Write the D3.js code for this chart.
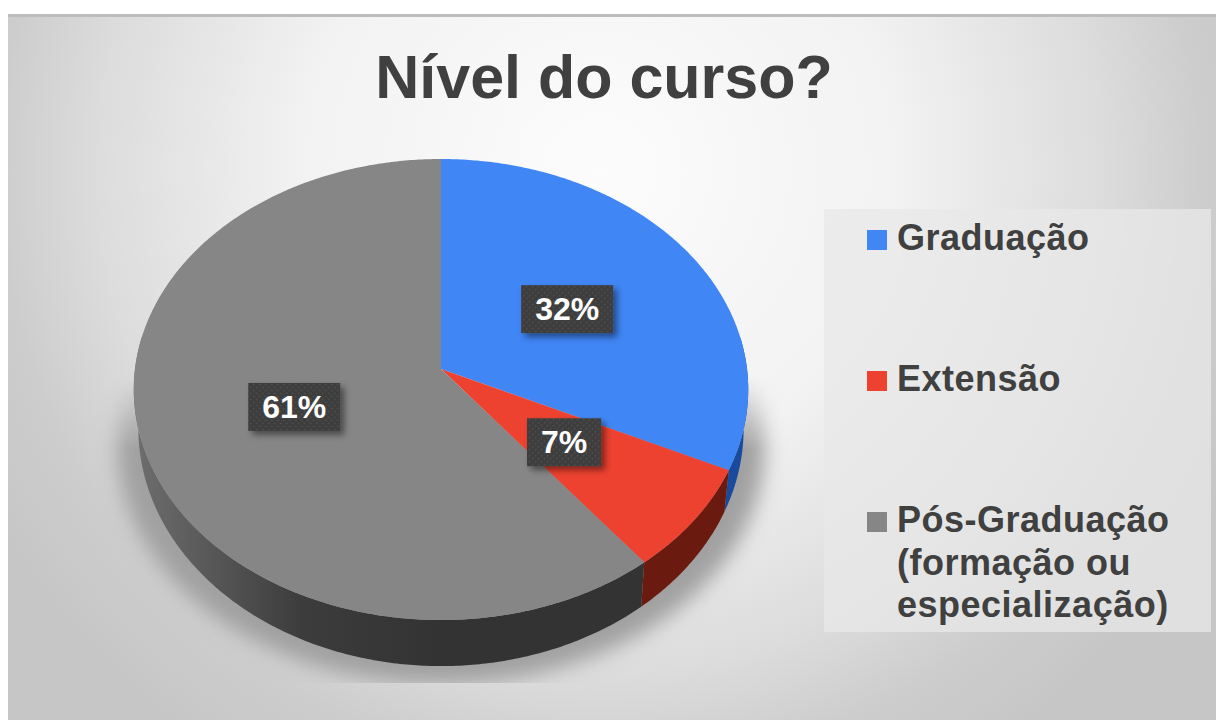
<!DOCTYPE html>
<html lang="pt">

<head>
    <meta charset="UTF-8">
    <title>Nível do curso?</title>
    <script src="https://d3js.org/d3.v7.min.js"></script>
    <style>
        html, body { margin: 0; padding: 0; background: #fff; }
        svg { display: block; }
        text { font-family: "Liberation Sans", Arial, sans-serif; }
    </style>
</head>

<body>
    <script>
        var titleText = "Nível do curso?";
        var categories = ["Graduação", "Extensão", "Pós-Graduação (formação ou especialização)"];
        var legendLines = [["Graduação"], ["Extensão"], ["Pós-Graduação", "(formação ou", "especialização)"]];
        var values = [0.32, 0.074, 0.606];
        var colors = ["#4086f5", "#ee4230", "#868686"];
        var wallColors = ["#1a4a9e", "#6b1a10", "#343434"];

        var width = 1216;
        var height = 720;

        var svg = d3.select("body").append("svg")
            .attr("width", width)
            .attr("height", height);

        var defs = svg.append("defs");

        var bg = defs.append("radialGradient")
            .attr("id", "bg")
            .attr("gradientUnits", "userSpaceOnUse")
            .attr("cx", 600).attr("cy", 170).attr("r", 700);
        bg.append("stop").attr("offset", "0").attr("stop-color", "#fcfcfc");
        bg.append("stop").attr("offset", "0.43").attr("stop-color", "#f2f2f2");
        bg.append("stop").attr("offset", "0.72").attr("stop-color", "#dcdcdc");
        bg.append("stop").attr("offset", "0.86").attr("stop-color", "#cdcdcd");
        bg.append("stop").attr("offset", "1").attr("stop-color", "#c6c6c6");

        var wallShade = defs.append("linearGradient")
            .attr("id", "wallGray")
            .attr("gradientUnits", "userSpaceOnUse")
            .attr("x1", 135).attr("x2", 440).attr("y1", 0).attr("y2", 0);
        wallShade.append("stop").attr("offset", "0").attr("stop-color", "#6e6e6e");
        wallShade.append("stop").attr("offset", "0.55").attr("stop-color", "#3c3c3c");
        wallShade.append("stop").attr("offset", "1").attr("stop-color", "#333333");

        defs.append("filter").attr("id", "blur").attr("x", "-20%").attr("y", "-20%").attr("width", "140%").attr("height", "140%")
            .append("feGaussianBlur").attr("stdDeviation", 10);

        var boxShadow = defs.append("filter").attr("id", "boxShadow").attr("x", "-30%").attr("y", "-30%").attr("width", "160%").attr("height", "160%");
        boxShadow.append("feDropShadow").attr("dx", 4).attr("dy", 4).attr("stdDeviation", 3).attr("flood-color", "#000").attr("flood-opacity", 0.45);

        var dots = defs.append("pattern").attr("id", "dots").attr("patternUnits", "userSpaceOnUse").attr("width", 6).attr("height", 6);
        dots.append("rect").attr("width", 6).attr("height", 6).attr("fill", "#3d3d3d");
        dots.append("circle").attr("cx", 1.5).attr("cy", 1.5).attr("r", 1).attr("fill", "#4e4e4e");
        dots.append("circle").attr("cx", 4.5).attr("cy", 4.5).attr("r", 1).attr("fill", "#4e4e4e");

        defs.append("clipPath").attr("id", "shadowClip")
            .append("rect").attr("x", 8).attr("y", 340).attr("width", 900).attr("height", 343);

        // the shadow fades out towards the top of the pie
        var fade = defs.append("linearGradient")
            .attr("id", "fade")
            .attr("gradientUnits", "userSpaceOnUse")
            .attr("x1", 0).attr("x2", 0).attr("y1", 375).attr("y2", 450);
        fade.append("stop").attr("offset", "0").attr("stop-color", "#000");
        fade.append("stop").attr("offset", "1").attr("stop-color", "#fff");
        defs.append("mask").attr("id", "fadeMask")
            .attr("maskUnits", "userSpaceOnUse")
            .attr("x", 0).attr("y", 0).attr("width", width).attr("height", height)
            .append("rect").attr("width", width).attr("height", height).attr("fill", "url(#fade)");

        // panel
        svg.append("rect")
            .attr("x", 8).attr("y", 14)
            .attr("width", width - 8).attr("height", height - 14)
            .attr("fill", "url(#bg)");
        svg.append("rect")
            .attr("x", 8).attr("y", 14)
            .attr("width", width - 8).attr("height", 3)
            .attr("fill", "#bdbdbd");

        svg.append("text")
            .attr("x", 604).attr("y", 98)
            .attr("text-anchor", "middle")
            .attr("font-size", 61)
            .attr("font-weight", "bold")
            .attr("fill", "#404040")
            .text(titleText);

        // pie with a perspective tilt: the far edge is squeezed, so the apex sits above the ellipse middle
        var cx = 441, cy = 369, rx = 306, ry = 228.7, tilt = 0.089, depth = 38.5, shrinkX = 0.985, shrinkY = 1.03;

        function project(px, py, z) {
            var d = 1 - tilt * py;
            return [
                cx + rx * (z ? shrinkX : 1) * px / d,
                cy + ry * (z ? shrinkY : 1) * py / d + (z ? depth : 0)
            ];
        }

        function rim(a, z) {
            return project(Math.sin(a), -Math.cos(a), z);
        }

        var pie = d3.pie().sort(null).value(function (d) { return d; });
        var arcs = pie(values);
        var arcGen = d3.arc().innerRadius(0).outerRadius(1);
        var color = d3.scaleOrdinal().domain(categories).range(colors);
        var wall = d3.scaleOrdinal().domain(categories).range(wallColors);
        var line = d3.line();

        function steps(d) {
            return d3.range(d.startAngle, d.endAngle, 0.01).concat([d.endAngle]);
        }

        function topPath(d) {
            return line([[cx, cy]].concat(steps(d).map(function (a) { return rim(a, 0); }))) + "Z";
        }

        function wallPath(d) {
            // only the part of the rim that faces the viewer
            var a = steps(d).filter(function (t) { return Math.abs(t - Math.PI) < 1.72; });
            if (!a.length) return null;
            var upper = a.map(function (t) { return rim(t, 0); });
            var lower = a.map(function (t) { return rim(t, 1); }).reverse();
            return line(upper.concat(lower)) + "Z";
        }

        // soft ground shadow, cut flat at the bottom like the source
        svg.append("g").attr("clip-path", "url(#shadowClip)")
            .append("g").attr("mask", "url(#fadeMask)")
            .append("path")
            .attr("d", line(d3.range(0, 6.3, 0.05).map(function (a) {
                var p = rim(a, 1);
                return [cx + (p[0] - cx) * 1.07, p[1] + 18];
            })) + "Z")
            .attr("fill", "#a0a0a0")
            .attr("filter", "url(#blur)");

        svg.selectAll(".wall")
            .data(arcs)
            .enter()
            .append("path")
            .attr("class", "wall")
            .attr("d", wallPath)
            .attr("fill", function (d, i) { return i === 2 ? "url(#wallGray)" : wall(categories[i]); });

        svg.selectAll(".slice")
            .data(arcs)
            .enter()
            .append("path")
            .attr("class", "slice")
            .attr("d", topPath)
            .attr("fill", function (d, i) { return color(categories[i]); });

        // value labels
        var fmt = d3.format(".0%");
        var labels = svg.selectAll(".label")
            .data(arcs)
            .enter()
            .append("g")
            .attr("class", "label")
            .attr("transform", function (d) {
                var c = arcGen.centroid(d);
                var p = project(c[0], c[1], 0);
                return "translate(" + p[0] + "," + p[1] + ")";
            });

        labels.append("rect")
            .attr("fill", "url(#dots)")
            .attr("filter", "url(#boxShadow)");

        labels.append("text")
            .attr("text-anchor", "middle")
            .attr("y", 11)
            .attr("font-size", 32)
            .attr("font-weight", "bold")
            .attr("fill", "#fff")
            .text(function (d) { return fmt(d.data); });

        labels.each(function () {
            var g = d3.select(this);
            var w = g.select("text").node().getBBox().width;
            g.select("rect")
                .attr("x", -w / 2 - 14).attr("y", -24)
                .attr("width", w + 28).attr("height", 48);
        });

        // legend
        svg.append("rect")
            .attr("x", 824).attr("y", 209)
            .attr("width", 387).attr("height", 423)
            .attr("fill", "#e8e8e8").attr("opacity", 0.75);

        var legendY = d3.scalePoint().domain(categories).range([250, 532]);

        var legend = svg.selectAll(".legend")
            .data(categories)
            .enter()
            .append("g")
            .attr("class", "legend")
            .attr("transform", function (d) { return "translate(867," + legendY(d) + ")"; });

        legend.append("rect")
            .attr("y", -20)
            .attr("width", 20).attr("height", 20)
            .attr("fill", function (d) { return color(d); });

        legend.each(function (d, i) {
            d3.select(this).selectAll("text")
                .data(legendLines[i])
                .enter()
                .append("text")
                .attr("x", 30)
                .attr("y", function (l, j) { return j * 42.5; })
                .attr("font-size", 36)
                .attr("font-weight", "bold")
                .attr("letter-spacing", 0.5)
                .attr("fill", "#404040")
                .text(function (l) { return l; });
        });
    </script>
</body>

</html>
